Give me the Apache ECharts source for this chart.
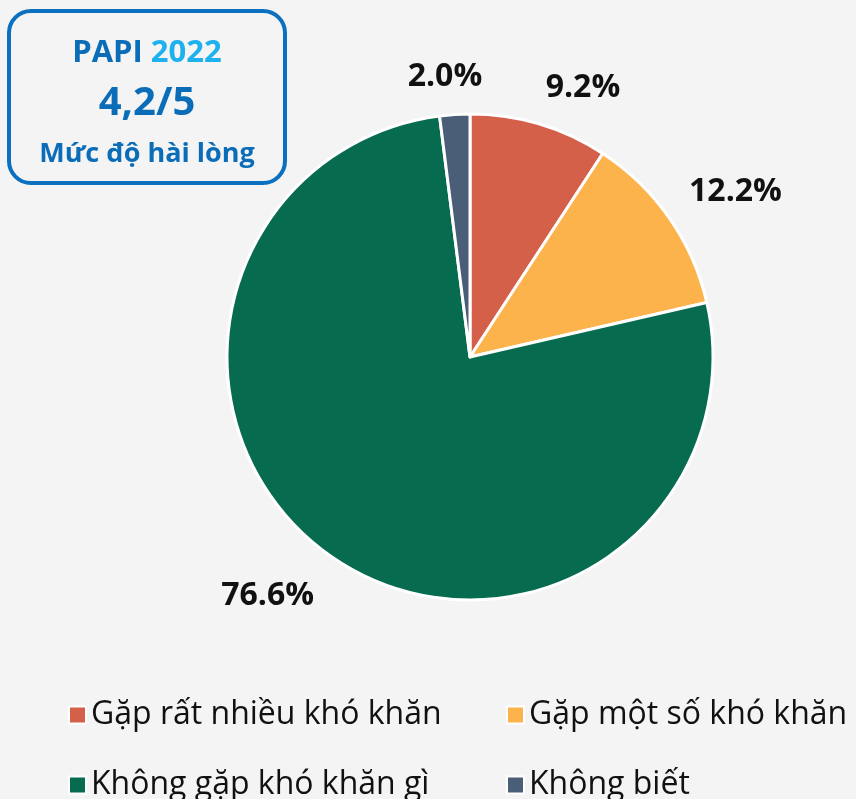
<!DOCTYPE html>
<html>
<head>
<meta charset="utf-8">
<script src="https://cdn.jsdelivr.net/npm/echarts@6/dist/echarts.min.js"></script>
<style>
  html, body { margin: 0; padding: 0; background: #f4f4f4; }
  #chart { width: 856px; height: 799px; }
</style>
</head>
<body>
<div id="chart"></div>
<script>
const categories = ['Gặp rất nhiều khó khăn', 'Gặp một số khó khăn', 'Không gặp khó khăn gì', 'Không biết']
const values = [9.2, 12.2, 76.6, 2.0]
const colors = ['#d5604a', '#fdb34b', '#076b50', '#4a5e78']

// nudges so the value labels sit where the original put them
const labelNudge = [[-10, 2], [-18, -3], [11, 7], [35, 2]]

// legend slots: [left, top] for each category
const legendSlots = [[63, 693], [501, 693], [63, 763], [501, 763]]

const myChart = echarts.init(document.getElementById('chart'))

const legends = categories.map((name, i) => ({
  data: [name],
  left: legendSlots[i][0],
  top: legendSlots[i][1],
  itemWidth: 17,
  itemHeight: 17,
  icon: 'rect',
  itemStyle: { borderColor: '#fff', borderWidth: 2 },
  textStyle: {
    fontFamily: 'Open Sans',
    fontSize: 32,
    lineHeight: 34,
    color: '#111',
  },
}))

const option = {
  backgroundColor: '#f4f4f4',
  color: colors,
  graphic: [
    {
      type: 'rect',
      shape: { x: 9, y: 11, width: 276, height: 172, r: 22 },
      style: { fill: '#f4f4f4', stroke: '#0a70bf', lineWidth: 4 },
    },
    {
      type: 'text',
      x: 147,
      y: 53,
      style: {
        text: '{a|PAPI}{b|2022}',
        align: 'center',
        verticalAlign: 'middle',
        rich: {
          a: { fontFamily: 'Open Sans', fontWeight: 'bold', fontSize: 31, fill: '#0b6db7', padding: [0, 8, 0, 0] },
          b: { fontFamily: 'Open Sans', fontWeight: 'bold', fontSize: 31, fill: '#1db1ee' },
        },
      },
    },
    {
      type: 'text',
      x: 147,
      y: 104,
      style: {
        text: '4,2/5',
        align: 'center',
        verticalAlign: 'middle',
        fontFamily: 'Open Sans',
        fontWeight: 'bold',
        fontSize: 40,
        fill: '#0b6db7',
      },
    },
    {
      type: 'text',
      x: 147,
      y: 154,
      style: {
        text: 'Mức độ hài lòng',
        align: 'center',
        verticalAlign: 'middle',
        fontFamily: 'Open Sans',
        fontWeight: 'bold',
        fontSize: 27,
        fill: '#0b6db7',
      },
    },
  ],
  legend: legends,
  series: [
    {
      type: 'pie',
      center: [470, 357],
      radius: 243,
      startAngle: 90,
      clockwise: true,
      avoidLabelOverlap: false,
      itemStyle: { borderColor: '#fff', borderWidth: 3 },
      label: {
        show: true,
        position: 'outside',
        formatter: (p) => p.value.toFixed(1) + '%',
        fontFamily: 'Open Sans',
        fontWeight: 'bold',
        fontSize: 32,
        color: '#111',
      },
      labelLine: { show: false, length: 40, length2: 0 },
      labelLayout: (params) => ({
        dx: labelNudge[params.dataIndex][0],
        dy: labelNudge[params.dataIndex][1],
      }),
      emphasis: { scale: false },
      data: categories.map((name, i) => ({ name, value: values[i] })),
    },
  ],
}
myChart.setOption(option, true)
window.addEventListener('resize', () => {
  myChart.resize()
})
</script>
</body>
</html>
